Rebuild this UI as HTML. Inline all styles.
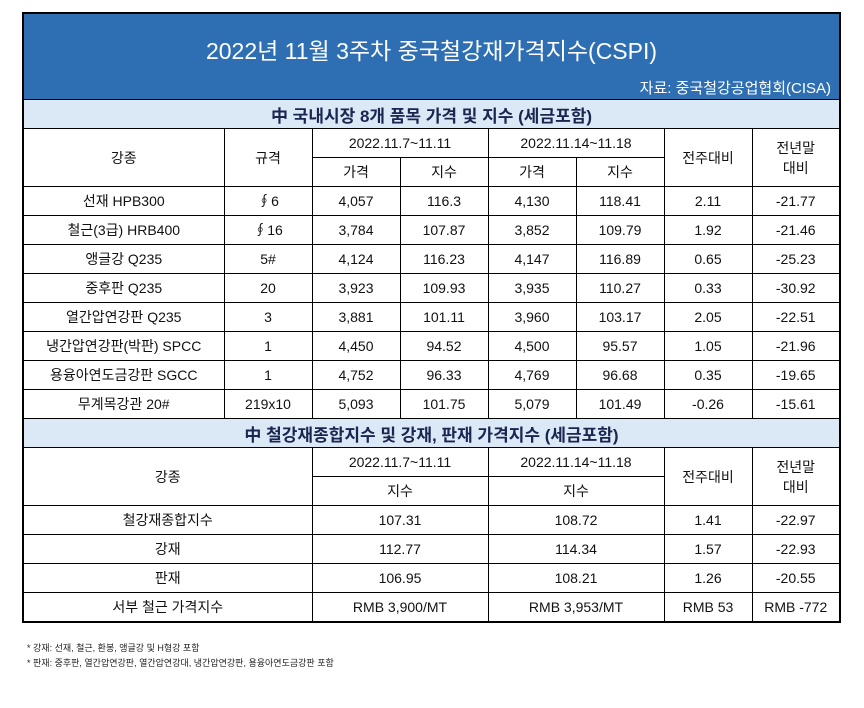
<!DOCTYPE html>
<html><head><meta charset="utf-8">
<style>
body{margin:0;background:#fff;width:864px;height:708px;position:relative;font-family:"Liberation Sans","Noto Sans CJK KR","NanumGothic",sans-serif;}
table{position:absolute;left:22px;top:12px;border-collapse:collapse;table-layout:fixed;width:817px;border:2px solid #000;}
td{border:1px solid #000;text-align:center;font-size:14px;color:#111;padding:0;height:28px;overflow:hidden;white-space:nowrap}
.title{background:#2e6fb4;color:#fff;height:85px;border:none;position:relative}
.title .t{position:absolute;left:0;right:0;top:18px;font-size:23px}
.title .s{position:absolute;right:8px;top:63px;font-size:15px}
.sec{background:#dbe8f5;font-weight:bold;font-size:17px;color:#1a2550;height:28px}
.note{position:absolute;left:27px;font-size:9px;color:#222}
</style></head><body>
<table>
<colgroup><col style="width:201px"><col style="width:88px"><col style="width:88px"><col style="width:88px"><col style="width:88px"><col style="width:88px"><col style="width:88px"><col style="width:88px"></colgroup>
<tr><td colspan="8" class="title"><div class="t">2022년 11월 3주차 중국철강재가격지수(CSPI)</div><div class="s">자료: 중국철강공업협회(CISA)</div></td></tr>
<tr><td colspan="8" class="sec">中 국내시장 8개 품목 가격 및 지수 (세금포함)</td></tr>
<tr><td rowspan="2">강종</td><td rowspan="2">규격</td><td colspan="2">2022.11.7~11.11</td><td colspan="2">2022.11.14~11.18</td><td rowspan="2">전주대비</td><td rowspan="2">전년말<br>대비</td></tr>
<tr><td>가격</td><td>지수</td><td>가격</td><td>지수</td></tr>
<tr><td>선재 HPB300</td><td>∮6</td><td>4,057</td><td>116.3</td><td>4,130</td><td>118.41</td><td>2.11</td><td>-21.77</td></tr>
<tr><td>철근(3급) HRB400</td><td>∮16</td><td>3,784</td><td>107.87</td><td>3,852</td><td>109.79</td><td>1.92</td><td>-21.46</td></tr>
<tr><td>앵글강 Q235</td><td>5#</td><td>4,124</td><td>116.23</td><td>4,147</td><td>116.89</td><td>0.65</td><td>-25.23</td></tr>
<tr><td>중후판 Q235</td><td>20</td><td>3,923</td><td>109.93</td><td>3,935</td><td>110.27</td><td>0.33</td><td>-30.92</td></tr>
<tr><td>열간압연강판 Q235</td><td>3</td><td>3,881</td><td>101.11</td><td>3,960</td><td>103.17</td><td>2.05</td><td>-22.51</td></tr>
<tr><td>냉간압연강판(박판) SPCC</td><td>1</td><td>4,450</td><td>94.52</td><td>4,500</td><td>95.57</td><td>1.05</td><td>-21.96</td></tr>
<tr><td>용융아연도금강판 SGCC</td><td>1</td><td>4,752</td><td>96.33</td><td>4,769</td><td>96.68</td><td>0.35</td><td>-19.65</td></tr>
<tr><td>무계목강관 20#</td><td>219x10</td><td>5,093</td><td>101.75</td><td>5,079</td><td>101.49</td><td>-0.26</td><td>-15.61</td></tr>
<tr><td colspan="8" class="sec">中 철강재종합지수 및 강재, 판재 가격지수 (세금포함)</td></tr>
<tr><td colspan="2" rowspan="2">강종</td><td colspan="2">2022.11.7~11.11</td><td colspan="2">2022.11.14~11.18</td><td rowspan="2">전주대비</td><td rowspan="2">전년말<br>대비</td></tr>
<tr><td colspan="2">지수</td><td colspan="2">지수</td></tr>
<tr><td colspan="2">철강재종합지수</td><td colspan="2">107.31</td><td colspan="2">108.72</td><td>1.41</td><td>-22.97</td></tr>
<tr><td colspan="2">강재</td><td colspan="2">112.77</td><td colspan="2">114.34</td><td>1.57</td><td>-22.93</td></tr>
<tr><td colspan="2">판재</td><td colspan="2">106.95</td><td colspan="2">108.21</td><td>1.26</td><td>-20.55</td></tr>
<tr><td colspan="2">서부 철근 가격지수</td><td colspan="2">RMB 3,900/MT</td><td colspan="2">RMB 3,953/MT</td><td>RMB 53</td><td>RMB -772</td></tr>
</table>
<div class="note" style="top:641px">* 강재: 선재, 철근, 환봉, 앵글강 및 H형강 포함</div>
<div class="note" style="top:656px">* 판재: 중후판, 열간압연강판, 열간압연강대, 냉간압연강판, 용융아연도금강판 포함</div>
</body></html>
